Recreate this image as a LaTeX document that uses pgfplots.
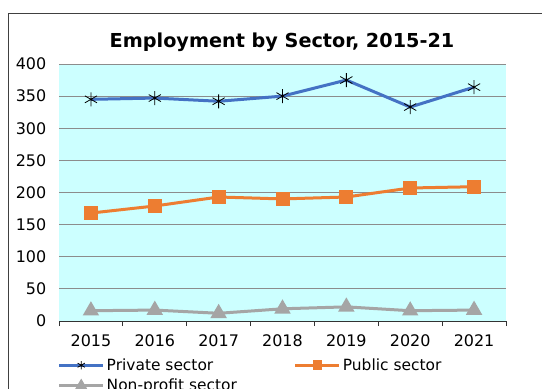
\documentclass[border=0pt]{standalone}
\usepackage{fontspec}
\setmainfont{DejaVu Sans}
\usepackage{pgfplots}
\pgfplotsset{compat=1.18}
\definecolor{privblue}{HTML}{4472C4}
\definecolor{puborange}{HTML}{ED7D31}
\definecolor{npgray}{HTML}{A5A5A5}
\definecolor{plotbg}{HTML}{CCFFFF}
\definecolor{gridgray}{HTML}{8C8C8C}

% year index 0 = 2015
\pgfplotstableread{
x y
0 345
1 347
2 342
3 350
4 375
5 333
6 364
}\privatedata
\pgfplotstableread{
x y
0 168
1 179
2 193
3 190
4 193
5 207
6 209
}\publicdata
\pgfplotstableread{
x y
0 16
1 17
2 12
3 19
4 22
5 16
6 17
}\nonprofitdata

\begin{document}
\begin{tikzpicture}
\useasboundingbox (0bp,0bp) rectangle (542bp,389bp);
\draw[black!75, line width=1bp] (8bp,375bp) rectangle (560bp,-20bp);
\node[font=\bfseries\fontsize{19.3}{23}\selectfont] at (282bp,347bp) {Employment by Sector, 2015-21};
\begin{axis}[
  at={(59bp,68bp)}, anchor=south west,
  scale only axis, width=447bp, height=257bp,
  xmin=-0.5, xmax=6.5, ymin=0, ymax=400,
  axis lines*=left,
  y axis line style={draw=none},
  x axis line style={black!80, line width=1bp},
  axis background/.style={fill=plotbg},
  ytick={0,50,...,400},
  ymajorgrids, grid style={gridgray, line width=1bp},
  ytick style={draw=none},
  xtick={0,...,6},
  xticklabels={2015,2016,2017,2018,2019,2020,2021},
  major x tick style={draw=none},
  minor xtick={-0.5,0.5,...,6.5},
  minor x tick style={black!80, line width=0.8bp},
  minor tick length=5bp,
  tick align=outside,
  tick label style={font=\fontsize{16}{19}\selectfont},
  /pgf/number format/assume math mode=true,
  xticklabel style={yshift=-6bp},
  yticklabel style={xshift=-5bp},
  legend columns=2,
  legend style={draw=none, fill=none, at={(-0.01,-0.13)}, anchor=north west,
    font=\fontsize{15.5}{18}\selectfont, row sep=3bp,
    /tikz/every even column/.append style={column sep=55bp}},
  legend cell align=left,
  legend image code/.code={\draw[mark repeat=2,mark phase=2,/tikz/every mark/.append style={scale=0.6}] plot coordinates {(0bp,0bp)(22bp,0bp)(44bp,0bp)};},
]
\addplot[privblue, line width=3bp, mark=asterisk, mark size=7bp,
  mark options={black, line width=0.8bp, solid}] table {\privatedata};
\addlegendentry{Private sector}
\addplot[puborange, line width=3bp, mark=square*, mark size=5.5bp,
  mark options={fill=puborange, draw=puborange}] table {\publicdata};
\addlegendentry{Public sector}
\addplot[npgray, line width=3bp, mark=triangle*, mark size=6.5bp,
  mark options={fill=npgray, draw=npgray}] table {\nonprofitdata};
\addlegendentry{Non-profit sector}
\end{axis}
\end{tikzpicture}
\end{document}
